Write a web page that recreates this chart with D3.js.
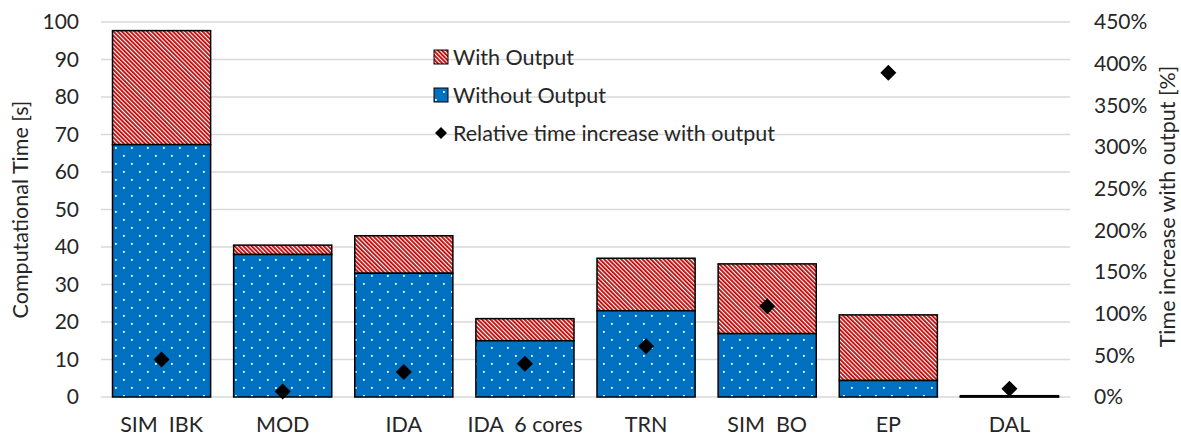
<!DOCTYPE html>
<html>
<head>
<meta charset="utf-8">
<script src="https://cdn.jsdelivr.net/npm/d3@7"></script>
<style>
  body { margin: 0; background: #fff; }
  svg { display: block; font-family: Lato, "Open Sans", sans-serif; }
</style>
</head>
<body>
<svg id="chart" width="1181" height="436"></svg>
<script>
const categories = ["SIM  IBK", "MOD", "IDA", "IDA  6 cores", "TRN", "SIM  BO", "EP", "DAL"];
const withoutOutput = [67.3, 38.0, 33.0, 15.0, 23.0, 16.9, 4.4, 0.05];
const withOutputTotal = [97.7, 40.5, 43.0, 20.9, 37.0, 35.5, 21.9, 0.35];
const relativeIncrease = [45, 6.5, 30, 40, 61, 109, 389, 10];
const leftTicks = [0, 10, 20, 30, 40, 50, 60, 70, 80, 90, 100];
const rightTicks = [0, 50, 100, 150, 200, 250, 300, 350, 400, 450];
const legendLabels = ["With Output", "Without Output", "Relative time increase with output"];

const svg = d3.select("#chart");
const M = { left: 101, right: 1070, top: 22, bottom: 397 };
const FS = 21.5, TFS = 21;

const x = d3.scaleBand().domain(categories).range([M.left, M.right]).paddingInner(0.19).paddingOuter(0.095);
const y = d3.scaleLinear().domain([0, 100]).range([M.bottom, M.top]);
const y2 = d3.scaleLinear().domain([0, 450]).range([M.bottom, M.top]);

const defs = svg.append("defs");
const stripes = defs.append("pattern").attr("id", "stripes")
  .attr("patternUnits", "userSpaceOnUse").attr("width", 3).attr("height", 10)
  .attr("patternTransform", "rotate(-45)");
stripes.append("rect").attr("width", 3).attr("height", 10).attr("fill", "#fff");
stripes.append("rect").attr("width", 1.8).attr("height", 10).attr("fill", "#c00000");

const dots = defs.append("pattern").attr("id", "dots")
  .attr("patternUnits", "userSpaceOnUse").attr("width", 16).attr("height", 16);
dots.append("rect").attr("width", 16).attr("height", 16).attr("fill", "#0070c0");
dots.append("rect").attr("x", 3).attr("y", 3).attr("width", 1.8).attr("height", 1.8).attr("fill", "#fff");
dots.append("rect").attr("x", 11).attr("y", 11).attr("width", 1.8).attr("height", 1.8).attr("fill", "#fff");

// gridlines
svg.append("g").selectAll("line").data(leftTicks).join("line")
  .attr("x1", M.left).attr("x2", M.right)
  .attr("y1", d => y(d)).attr("y2", d => y(d))
  .attr("stroke", "#d9d9d9").attr("stroke-width", 1.3);

// bars
const data = categories.map((c, i) => ({ c, wo: withoutOutput[i], w: withOutputTotal[i], r: relativeIncrease[i] }));
const g = svg.append("g");
g.selectAll("rect.with").data(data).join("rect").attr("class", "with")
  .attr("x", d => x(d.c)).attr("width", x.bandwidth())
  .attr("y", d => y(d.w)).attr("height", d => y(d.wo) - y(d.w))
  .attr("fill", "url(#stripes)").attr("stroke", "#000").attr("stroke-width", 1.5);
g.selectAll("rect.wo").data(data).join("rect").attr("class", "wo")
  .attr("x", d => x(d.c)).attr("width", x.bandwidth())
  .attr("y", d => y(d.wo)).attr("height", d => y(0) - y(d.wo))
  .attr("fill", "url(#dots)").attr("stroke", "#000").attr("stroke-width", 1.5);

// diamonds
const diamond = d3.symbol().type(d3.symbolSquare).size(128);
svg.append("g").selectAll("path").data(data).join("path")
  .attr("d", diamond)
  .attr("transform", d => `translate(${x(d.c) + x.bandwidth() / 2},${y2(d.r)}) rotate(45)`)
  .attr("fill", "#000");

// left axis
const leftAxis = d3.axisLeft(y).tickValues(leftTicks).tickSize(0).tickPadding(0);
const la = svg.append("g").attr("transform", `translate(79,0)`).call(leftAxis);
la.select(".domain").remove();
la.selectAll("text").attr("font-size", TFS).attr("fill", "#262626").attr("font-family", "Lato");

// right axis
const rightAxis = d3.axisRight(y2).tickValues(rightTicks).tickSize(0).tickPadding(0).tickFormat(d => d + "%");
const ra = svg.append("g").attr("transform", `translate(1094,0)`).call(rightAxis);
ra.select(".domain").remove();
ra.selectAll("text").attr("font-size", TFS).attr("fill", "#262626").attr("font-family", "Lato");

// x axis labels
const xAxis = d3.axisBottom(x).tickSize(0).tickPadding(0);
const xa = svg.append("g").attr("transform", `translate(0,${M.bottom})`).call(xAxis);
xa.select(".domain").remove();
xa.selectAll("text").attr("font-size", FS).attr("fill", "#262626").attr("font-family", "Lato")
  .attr("dy", null).attr("y", 35).style("white-space", "pre");

// axis titles
svg.append("text").attr("transform", `translate(28,${(M.top + M.bottom) / 2}) rotate(-90)`)
  .attr("text-anchor", "middle").attr("font-size", FS).attr("fill", "#262626")
  .text("Computational Time [s]");
svg.append("text").attr("transform", `translate(1175,${(M.top + M.bottom) / 2 - 3}) rotate(-90)`)
  .attr("text-anchor", "middle").attr("font-size", FS).attr("fill", "#262626")
  .text("Time increase with output [%]");

// legend
const lg = svg.append("g");
const rowsY = [57, 95, 133];
lg.append("rect").attr("x", 434).attr("y", rowsY[0] - 7).attr("width", 14).attr("height", 14)
  .attr("fill", "url(#stripes)").attr("stroke", "#000").attr("stroke-width", 1);
lg.append("rect").attr("x", 434).attr("y", rowsY[1] - 7).attr("width", 14).attr("height", 14)
  .attr("fill", "url(#dots)").attr("stroke", "#000").attr("stroke-width", 1);
lg.append("path").attr("d", d3.symbol().type(d3.symbolSquare).size(72))
  .attr("transform", `translate(441,${rowsY[2]}) rotate(45)`).attr("fill", "#000");
lg.selectAll("text").data(legendLabels).join("text")
  .attr("x", 453).attr("y", (d, i) => rowsY[i]).attr("dy", "0.35em")
  .attr("font-size", FS).attr("fill", "#262626").text(d => d);
</script>
</body>
</html>
